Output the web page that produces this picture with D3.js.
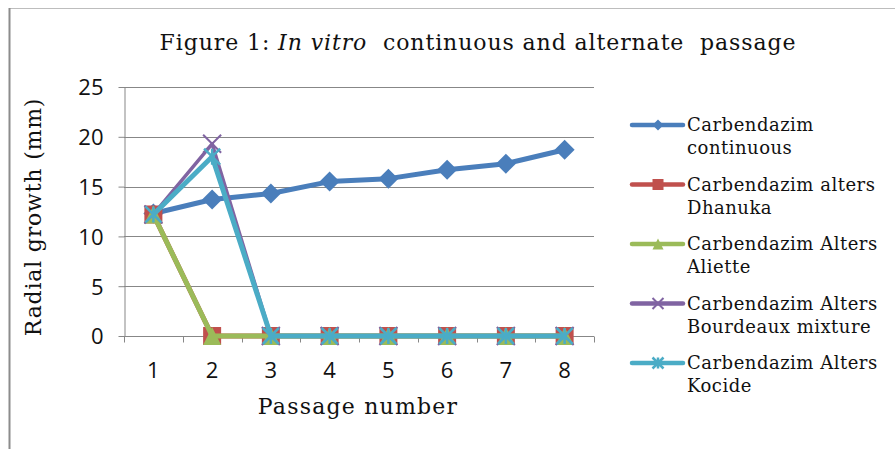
<!DOCTYPE html>
<html>
<head>
<meta charset="utf-8">
<script src="https://cdn.jsdelivr.net/npm/d3@7"></script>
<style>
  body { margin: 0; background: #fff; }
  svg { display: block; }
</style>
</head>
<body>
<svg id="chart" width="895" height="449"></svg>
<script>
// Chart data
const passages = [1, 2, 3, 4, 5, 6, 7, 8];
const yTicks = [0, 5, 10, 15, 20, 25];
const continuous = [12.3, 13.7, 14.3, 15.5, 15.8, 16.7, 17.3, 18.7];
const dhanuka = [12.2, 0, 0, 0, 0, 0, 0, 0];
const aliette = [12.2, 0, 0, 0, 0, 0, 0, 0];
const bourdeaux = [12.2, 19.3, 0, 0, 0, 0, 0, 0];
const kocide = [12.2, 18.0, 0, 0, 0, 0, 0, 0];

const seriesNames = [
  ['Carbendazim', 'continuous'],
  ['Carbendazim alters', 'Dhanuka'],
  ['Carbendazim Alters', 'Aliette'],
  ['Carbendazim Alters', 'Bourdeaux mixture'],
  ['Carbendazim Alters', 'Kocide'],
];
const seriesValues = [continuous, dhanuka, aliette, bourdeaux, kocide];
const seriesColors = ['#4a7ebb', '#c0504d', '#9bbb59', '#8064a2', '#4bacc6'];
const seriesMarkers = ['diamond', 'square', 'triangle', 'cross', 'star'];

const serif = "'DejaVu Serif', serif";
const sans = "'Open Sans', 'Liberation Sans', sans-serif";

const svg = d3.select('#chart');
const plot = { left: 124, right: 594, top: 87, bottom: 336 };

// Frame
svg.append('line')
  .attr('x1', 9).attr('x2', 895).attr('y1', 8.5).attr('y2', 8.5)
  .attr('stroke', '#bdbdbd').attr('stroke-width', 1);
svg.append('line')
  .attr('x1', 9.5).attr('x2', 9.5).attr('y1', 8).attr('y2', 449)
  .attr('stroke', '#8c8c8c').attr('stroke-width', 2);

// Title
const title = svg.append('text')
  .attr('x', 478).attr('y', 50)
  .attr('text-anchor', 'middle')
  .attr('font-family', serif).attr('font-size', 22).attr('fill', '#111')
  .attr('letter-spacing', 0.9)
  .attr('xml:space', 'preserve')
  .style('white-space', 'pre');
title.append('tspan').text('Figure 1: ');
title.append('tspan').attr('font-style', 'italic').text('In vitro');
title.append('tspan').text('  continuous and alternate  passage');

// Scales
const x = d3.scaleBand().domain(passages).range([plot.left, plot.right]);
const y = d3.scaleLinear().domain([0, 25]).range([plot.bottom, plot.top]);
const cx = (d) => x(d) + x.bandwidth() / 2;

// Gridlines
svg.append('g')
  .selectAll('line')
  .data(yTicks.filter((d) => d > 0))
  .join('line')
  .attr('x1', plot.left).attr('x2', plot.right)
  .attr('y1', (d) => Math.round(y(d)) + 0.5).attr('y2', (d) => Math.round(y(d)) + 0.5)
  .attr('stroke', '#878787');

// Y axis
const yAxis = svg.append('g')
  .attr('transform', `translate(${plot.left + 0.5},0)`)
  .call(d3.axisLeft(y).tickValues(yTicks).tickSize(6).tickPadding(15).tickSizeOuter(0));
yAxis.select('.domain').attr('stroke', '#878787');
yAxis.selectAll('.tick line').attr('stroke', '#878787');
yAxis.selectAll('.tick text')
  .attr('font-family', sans).attr('font-size', 22).attr('fill', '#111')
  .attr('dy', '0.36em');

// X axis (ticks between categories)
const xAxisG = svg.append('g').attr('transform', `translate(0,${plot.bottom + 0.5})`);
xAxisG.append('line')
  .attr('x1', plot.left).attr('x2', plot.right)
  .attr('stroke', '#878787');
xAxisG.selectAll('line.tk')
  .data([...passages.map((d) => x(d)), plot.right])
  .join('line')
  .attr('class', 'tk')
  .attr('x1', (d) => Math.round(d) + 0.5).attr('x2', (d) => Math.round(d) + 0.5)
  .attr('y1', 0).attr('y2', 6)
  .attr('stroke', '#878787');
xAxisG.selectAll('text')
  .data(passages)
  .join('text')
  .attr('x', cx).attr('y', 41)
  .attr('text-anchor', 'middle')
  .attr('font-family', sans).attr('font-size', 22).attr('fill', '#111')
  .text((d) => d);

// Axis titles
svg.append('text')
  .attr('x', 358).attr('y', 414)
  .attr('text-anchor', 'middle')
  .attr('font-family', serif).attr('font-size', 22).attr('fill', '#111')
  .attr('letter-spacing', 1.2)
  .text('Passage number');
svg.append('text')
  .attr('transform', 'translate(41,217) rotate(-90)')
  .attr('text-anchor', 'middle')
  .attr('font-family', serif).attr('font-size', 22).attr('fill', '#111')
  .attr('letter-spacing', 0.8)
  .text('Radial growth (mm)');

// Markers
function drawMarker(g, type, color, s) {
  if (type === 'diamond') {
    g.append('path').attr('d', `M0,${-s}L${s},0L0,${s}L${-s},0Z`).attr('fill', color);
  } else if (type === 'square') {
    g.append('rect').attr('x', -s).attr('y', -s).attr('width', 2 * s).attr('height', 2 * s)
      .attr('fill', color);
  } else if (type === 'triangle') {
    g.append('path').attr('d', `M0,${-s}L${s},${s}L${-s},${s}Z`).attr('fill', color);
  } else if (type === 'cross') {
    g.append('path').attr('d', `M${-s},${-s}L${s},${s}M${-s},${s}L${s},${-s}`)
      .attr('stroke', color).attr('stroke-width', 2);
  } else if (type === 'star') {
    g.append('path')
      .attr('d', `M${-s},${-s}L${s},${s}M${-s},${s}L${s},${-s}M0,${-s}L0,${s}`)
      .attr('stroke', color).attr('stroke-width', 2.5);
  }
}

const markerSize = [10, 9, 9, 9, 8];
const line = d3.line().x((d, i) => cx(passages[i])).y((d) => y(d));

seriesValues.forEach((vals, si) => {
  const g = svg.append('g');
  g.append('path')
    .datum(vals)
    .attr('d', line)
    .attr('fill', 'none')
    .attr('stroke', seriesColors[si])
    .attr('stroke-width', si === 3 ? 3.5 : 5)
    .attr('stroke-linejoin', 'round');
  g.selectAll('g.mk')
    .data(vals)
    .join('g')
    .attr('class', 'mk')
    .attr('transform', (d, i) => `translate(${cx(passages[i])},${y(d)})`)
    .each(function () {
      drawMarker(d3.select(this), seriesMarkers[si], seriesColors[si], markerSize[si]);
    });
});

// Legend
const legend = svg.append('g').attr('transform', 'translate(632,125)');
const items = legend.selectAll('g')
  .data(seriesNames)
  .join('g')
  .attr('transform', (d, i) => `translate(0,${i * 59.5})`);
items.append('line')
  .attr('x1', 0).attr('x2', 51)
  .attr('stroke', (d, i) => seriesColors[i])
  .attr('stroke-width', 4.5)
  .attr('stroke-linecap', 'round');
items.each(function (d, i) {
  const mg = d3.select(this).append('g').attr('transform', 'translate(26,0)');
  drawMarker(mg, seriesMarkers[i], seriesColors[i], 5.5);
});
items.append('text')
  .attr('font-family', serif).attr('font-size', 18).attr('fill', '#111')
  .attr('letter-spacing', 0.5)
  .selectAll('tspan')
  .data((d) => d)
  .join('tspan')
  .attr('x', 55)
  .attr('y', (d, i) => 6 + i * 23)
  .text((d) => d);
</script>
</body>
</html>
